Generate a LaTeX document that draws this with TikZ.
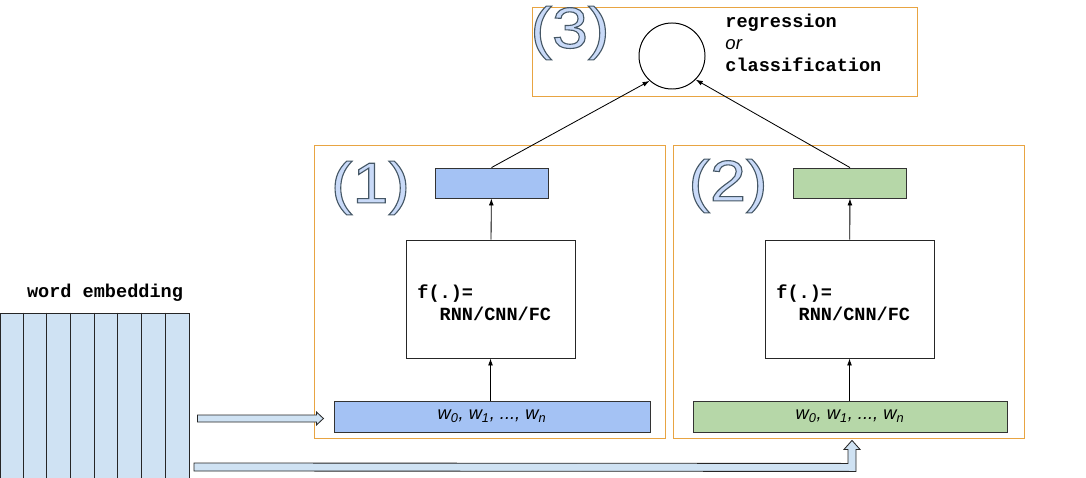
\documentclass[tikz,border=0pt]{standalone}
\usepackage{fontspec}
\setmainfont{Liberation Sans}
\setsansfont{Liberation Sans}
\setmonofont{Liberation Mono}
\newfontfamily\tagfont[FakeStretch=1.12]{Liberation Sans}
\usepackage{tikz}
\usetikzlibrary{%
  arrows.meta,%
  calc% wg. ($(a)+(b)$)
}
\definecolor{taskorange}{HTML}{E8A442}
\definecolor{hidblue}{HTML}{A4C2F4}
\definecolor{hidgreen}{HTML}{B6D7A8}
\definecolor{embblue}{HTML}{CFE2F3}
\definecolor{tagfill}{HTML}{C9DAF8}
% outlined big numbers, text render mode 2 = fill + stroke
\newcommand\tagtext[1]{{\tagfont\fontsize{41}{46}\selectfont\color{tagfill}%
  \special{pdf:literal direct 0.27 0.34 0.40 RG 0.8 w 2 Tr}#1%
  \special{pdf:literal direct 0 Tr}}}
\newcommand\wseq{\itshape w\textsubscript{0}, w\textsubscript{1}, ..., w\textsubscript{n}}

\begin{document}
\begin{tikzpicture}
    [   x=0.025cm, y=-0.025cm
    ,   >={Latex[length=5pt,width=3.5pt]}
    ,   line width=0.6pt
    ,   task/.style=
            {   rectangle
            ,   draw=taskorange
            ,   line width=0.7pt
            ,   minimum width=8.75cm
            ,   minimum height=7.3cm
            ,   inner sep=0pt
            }
    ,   hidden/.style=
            {   rectangle
            ,   draw=black!80
            ,   minimum width=2.825cm
            ,   minimum height=0.75cm
            ,   inner sep=0pt
            }
    ,   fbox/.style=
            {   rectangle
            ,   draw=black!85
            ,   minimum width=4.225cm
            ,   minimum height=2.95cm
            ,   inner sep=0pt
            }
    ,   seq/.style=
            {   rectangle
            ,   draw=black!80
            ,   minimum width=7.9cm
            ,   minimum height=0.775cm
            ,   inner sep=0pt
            ,   font=\fontsize{13}{15}\selectfont
            }
    ,   code/.style=
            {   font=\fontsize{13.2}{15.6}\selectfont\ttfamily\bfseries
            ,   inner sep=0pt
            ,   align=left
            }
    ,   feed/.style={draw=black!85, fill=embblue, line width=0.6pt}
    ]
    \useasboundingbox (0,0) rectangle (1086,478);

    % (3) output
    \node[task, minimum width=9.6cm, minimum height=2.2cm](T3) at (725,52){};
    \node[circle, draw=black, line width=0.7pt, minimum size=1.65cm, inner sep=0pt](out) at (672,56){};
    \node[code, anchor=west](res) at (725,43)
        {regression\\{\fontfamily{\sfdefault}\mdseries\itshape or}\\classification};
    \node(tag3) at (570,33){\tagtext{(3)}};

    % (1) and (2)
    \node[task](T1) at (490,292){};
    \node[task](T2) at (849,292){};
    \node(tag1) at (370.5,188){\tagtext{(1)}};
    \node(tag2) at (728,186){\tagtext{(2)}};

    \node[hidden, fill=hidblue](h1) at (491.5,183){};
    \node[hidden, fill=hidgreen](h2) at (850,183){};
    \node[fbox](f1) at (490.5,299){};
    \node[fbox](f2) at (849.5,299){};
    \node[code, anchor=west] at (417,303){f(.)=\\~~RNN/CNN/FC};
    \node[code, anchor=west] at (776,303){f(.)=\\~~RNN/CNN/FC};
    \node[seq, fill=hidblue](in1) at (492,416.5){\wseq};
    \node[seq, fill=hidgreen, minimum width=7.85cm](in2) at (850,416.5){\wseq};

    \draw[->](in1.north -| f1.south)--(f1.south);
    \draw[->](f1)--(h1);
    \draw[->](in2.north -| f2.south)--(f2.south);
    \draw[->](f2)--(h2);
    \draw[->](h1.north)--(out.228);
    \draw[->](h2.north)--(out.315);

    % word embedding
    \node[rectangle, draw=black!85, fill=embblue, minimum width=4.725cm, minimum height=4.2cm, inner sep=0pt](emb) at (94.5,397){};
    \foreach \i in {1,...,7}
        \draw[black!85] ($(emb.north west)+(\i*23.625,0)$) -- ($(emb.south west)+(\i*23.625,0)$);
    \node[code](embl) at (105,293){word embedding};

    % block arrows
    \coordinate (feedA) at ($(emb.east |- in1.west)+(8,2)$);
    \draw[feed] (feedA) ++(0,-3.5) -- ++(119,0) -- ++(0,-3) -- ++(7,6.5) -- ++(-7,6.5) -- ++(0,-3) -- ++(-119,0) -- cycle;
    \coordinate (tipB) at ($(in2.south)+(2,8)$);
    \draw[feed] (tipB) -- ++(8,9) -- ++(-4,0) -- ++(0,22) -- (194,471) -- ++(0,-8) -- ($(tipB)+(-4,23)$) -- ++(0,-14) -- ++(-4,0) -- cycle;
\end{tikzpicture}
\end{document}
